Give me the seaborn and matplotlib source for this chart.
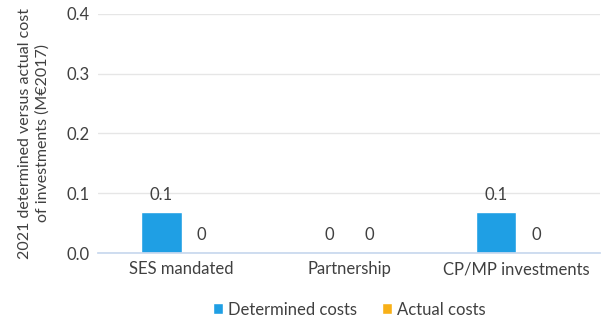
import numpy as np
import pandas as pd
import seaborn as sns
import matplotlib.pyplot as plt

categories = ["SES mandated", "Partnership", "CP/MP investments"]
series = ["Determined costs", "Actual costs"]
determined = [0.068, 0.0, 0.068]
actual = [0.0, 0.0, 0.0]
colors = ["#1f9fe4", "#f8b017"]

df = pd.DataFrame({
    "category": categories * 2,
    "series": [series[0]] * 3 + [series[1]] * 3,
    "value": determined + actual,
})

sns.set_theme(style="white")
plt.rcParams["font.family"] = ["Lato", "DejaVu Sans"]

fig = plt.figure(figsize=(6.08, 3.22), dpi=100)
ax = fig.add_axes([0.161, 0.214, 0.826, 0.743])

sns.barplot(data=df, x="category", y="value", hue="series", palette=colors,
            width=0.48, ax=ax, saturation=1)

for container in ax.containers:
    labels = ["0" if v == 0 else f"{v:.1f}" for v in container.datavalues]
    ax.bar_label(container, labels=labels, padding=7, fontsize=12, color="#404040")

ax.set_ylim(0, 0.4)
ax.set_yticks(np.arange(0, 0.41, 0.1))
ax.set_yticklabels([f"{v:.1f}" for v in np.arange(0, 0.41, 0.1)])
ax.yaxis.grid(True, color="#e6e6e6", linewidth=1)
ax.set_axisbelow(True)
for s in ["left", "right", "top"]:
    ax.spines[s].set_visible(False)
ax.spines["bottom"].set_color("#c8d8ee")
ax.tick_params(axis="both", length=0, labelsize=12, labelcolor="#404040", pad=6)
ax.set_xlabel("")
ax.set_ylabel("2021 determined versus actual cost\nof investments (M€2017)", fontsize=11.5,
              color="#404040", labelpad=12, linespacing=1.3)

ax.legend(loc="upper center", bbox_to_anchor=(0.5, -0.14), ncol=2, frameon=False,
          fontsize=12, handlelength=0.6, handleheight=0.6, handletextpad=0.3,
          columnspacing=1.5, labelcolor="#404040")

fig.savefig("out.png", dpi=100)
